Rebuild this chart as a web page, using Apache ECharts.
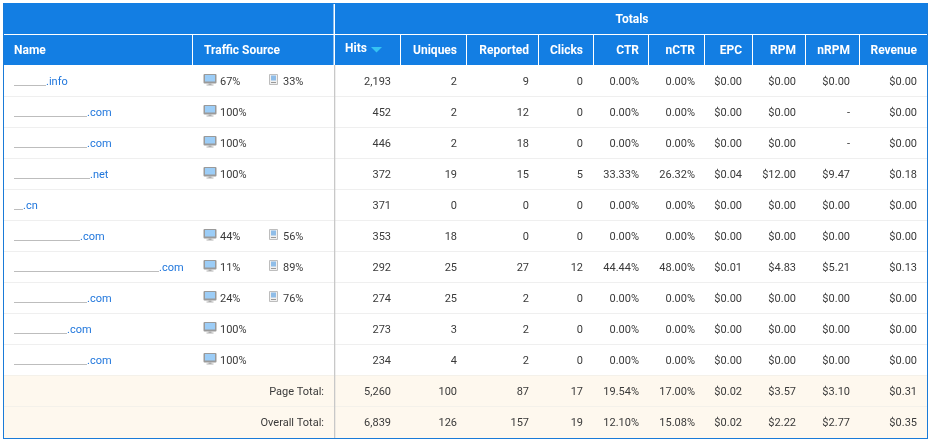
<!DOCTYPE html>
<html>

<head>
    <meta charset="utf-8">
    <title>Traffic report</title>
    <script src="https://cdn.jsdelivr.net/npm/echarts@6/dist/echarts.min.js"></script>
    <style>
        html, body { margin: 0; padding: 0; background: #fff; }
        #chart { width: 931px; height: 442px; }
    </style>
</head>

<body>
    <div id="chart"></div>
    <script>
        // table values
        const headers = ['Name', 'Traffic Source', 'Hits', 'Uniques', 'Reported', 'Clicks', 'CTR', 'nCTR', 'EPC', 'RPM', 'nRPM', 'Revenue'];
        const groupTitle = 'Totals';
        const names = ['.info', '.com', '.com', '.net', '.cn', '.com', '.com', '.com', '.com', '.com'];
        const desktop = [67, 100, 100, 100, null, 44, 11, 24, 100, 100];
        const mobile = [33, null, null, null, null, 56, 89, 76, null, null];
        const hits = ['2,193', '452', '446', '372', '371', '353', '292', '274', '273', '234'];
        const uniques = ['2', '2', '2', '19', '0', '18', '25', '25', '3', '4'];
        const reported = ['9', '12', '18', '15', '0', '0', '27', '2', '2', '2'];
        const clicks = ['0', '0', '0', '5', '0', '0', '12', '0', '0', '0'];
        const ctr = ['0.00%', '0.00%', '0.00%', '33.33%', '0.00%', '0.00%', '44.44%', '0.00%', '0.00%', '0.00%'];
        const nctr = ['0.00%', '0.00%', '0.00%', '26.32%', '0.00%', '0.00%', '48.00%', '0.00%', '0.00%', '0.00%'];
        const epc = ['$0.00', '$0.00', '$0.00', '$0.04', '$0.00', '$0.00', '$0.01', '$0.00', '$0.00', '$0.00'];
        const rpm = ['$0.00', '$0.00', '$0.00', '$12.00', '$0.00', '$0.00', '$4.83', '$0.00', '$0.00', '$0.00'];
        const nrpm = ['$0.00', '-', '-', '$9.47', '$0.00', '$0.00', '$5.21', '$0.00', '$0.00', '$0.00'];
        const revenue = ['$0.00', '$0.00', '$0.00', '$0.18', '$0.00', '$0.00', '$0.13', '$0.00', '$0.00', '$0.00'];
        const totalLabels = ['Page Total:', 'Overall Total:'];
        const pageTotal = ['5,260', '100', '87', '17', '19.54%', '17.00%', '$0.02', '$3.57', '$3.10', '$0.31'];
        const overallTotal = ['6,839', '126', '157', '19', '12.10%', '15.08%', '$0.02', '$2.22', '$2.77', '$0.35'];

        // layout
        const numberCols = [hits, uniques, reported, clicks, ctr, nctr, epc, rpm, nrpm, revenue];
        const textRight = [391, 457, 529, 583, 639, 695, 742, 796, 850, 917];
        const headSeps = [192, 400, 466, 538, 593, 648, 704, 752, 805, 859];
        const redactEnd = [46, 87, 87, 90, 23, 80, 159, 87, 67, 87];
        const LEFT = 3, RIGHT = 928, BOTTOM = 438, SPLIT = 334;
        const ROW0 = 66, ROW_H = 31;
        const FONT = 'Roboto';
        const BLUE = '#137ee3';
        const EDGE = '#1a7bd8';
        const INK = '#3a3a3a';
        const rowMid = i => ROW0 + ROW_H * i + 15;

        const chart = echarts.init(document.getElementById('chart'));

        // one entry per thing to draw, custom series turns them into shapes
        const boxes = [];
        const box = (x, y, w, h, fill) => boxes.push([x, y, w, h, fill]);
        box(LEFT, 3, RIGHT - LEFT, 62, BLUE);
        box(LEFT, 376, RIGHT - LEFT, 62, '#fef8ee');
        for (let i = 1; i <= 11; i++) {
            box(LEFT + 1, ROW0 + ROW_H * i - 1, RIGHT - LEFT - 2, 1, i >= 10 ? '#f4f1ea' : '#efefef');
        }
        box(SPLIT, 65, 1.3, BOTTOM - 65, '#c8c8c8');
        box(LEFT, 34, RIGHT - LEFT, 1, '#ffffff');
        box(SPLIT - 0.5, 4, 1.5, 61, '#ffffff');
        headSeps.forEach(x => box(x, 35, 1, 30, '#ffffff'));
        box(LEFT, 3, 1, BOTTOM - 3, EDGE);
        box(RIGHT - 1, 3, 1, BOTTOM - 3, EDGE);
        box(LEFT, BOTTOM, RIGHT - LEFT, 1, EDGE);
        redactEnd.forEach((x, i) => box(14, rowMid(i) + 4, x - 14, 1, '#bdbdbd'));

        const labels = [];
        const label = (x, y, text, color, weight, size, align) => labels.push([x, y, text, color, weight, size, align]);
        label(632, 20, groupTitle, '#fff', 700, 12, 'center');
        label(14, 51, headers[0], '#fff', 700, 12, 'left');
        label(204, 51, headers[1], '#fff', 700, 12, 'left');
        headers.slice(2).forEach((h, c) => {
            label(c === 0 ? 345 : textRight[c], c === 0 ? 49 : 51, h, '#fff', 700, 12, c === 0 ? 'left' : 'right');
        });
        names.forEach((n, i) => {
            label(redactEnd[i], rowMid(i) + 1, n, '#1f76dc', 400, 11, 'left');
            if (desktop[i] !== null) label(220, rowMid(i) + 1, desktop[i] + '%', INK, 400, 11, 'left');
            if (mobile[i] !== null) label(283, rowMid(i) + 1, mobile[i] + '%', INK, 400, 11, 'left');
            numberCols.forEach((col, c) => label(textRight[c], rowMid(i) + 1, col[i], INK, 400, 11, 'right'));
        });
        [pageTotal, overallTotal].forEach((row, k) => {
            label(324, rowMid(10 + k) + 1, totalLabels[k], INK, 400, 11, 'right');
            row.forEach((v, c) => label(textRight[c], rowMid(10 + k) + 1, v, INK, 400, 11, 'right'));
        });

        const rectAt = (api, x, y, w, h, r) => {
            const p = api.coord([x, y]);
            return { x: p[0], y: p[1], width: w, height: h, r: r || 0 };
        };

        // small monitor and phone glyphs in the traffic source column
        function monitorIcon(api, y) {
            return [
                { type: 'rect', shape: rectAt(api, 203.5, y - 7, 13, 9.5, 1), style: { fill: '#9a9a9a' } },
                { type: 'rect', shape: rectAt(api, 205, y - 6, 10, 6.5), style: { fill: '#9ccdf7' } },
                { type: 'rect', shape: rectAt(api, 208.5, y + 2.5, 3, 1.5), style: { fill: '#a8a8a8' } },
                { type: 'rect', shape: rectAt(api, 206.5, y + 3.5, 7, 1), style: { fill: '#b0b0b0' } }
            ];
        }
        function phoneIcon(api, y) {
            return [
                { type: 'rect', shape: rectAt(api, 269, y - 7, 9, 11, 1), style: { fill: '#bdbdbd' } },
                { type: 'rect', shape: rectAt(api, 270, y - 6, 7, 9), style: { fill: '#f0f0f0' } },
                { type: 'rect', shape: rectAt(api, 271, y - 5.5, 5, 5), style: { fill: '#8fbde8' } },
                { type: 'rect', shape: rectAt(api, 271, y + 1, 5, 1), style: { fill: '#999999' } }
            ];
        }

        const iconRows = names.map((n, i) => [i, desktop[i] !== null ? 1 : 0, mobile[i] !== null ? 1 : 0]);

        chart.setOption({
            animation: false,
            grid: { left: 0, right: 0, top: 0, bottom: 0 },
            xAxis: { type: 'value', min: 0, max: 931, show: false },
            yAxis: { type: 'value', min: 0, max: 442, inverse: true, show: false },
            series: [
                {
                    type: 'custom',
                    silent: true,
                    clip: false,
                    data: boxes,
                    encode: { x: 0, y: 1 },
                    renderItem: (params, api) => {
                        const d = boxes[params.dataIndex];
                        return { type: 'rect', shape: rectAt(api, d[0], d[1], d[2], d[3]), style: { fill: d[4] } };
                    }
                },
                {
                    type: 'custom',
                    silent: true,
                    clip: false,
                    data: iconRows,
                    encode: { y: 0 },
                    renderItem: (params, api) => {
                        const d = iconRows[params.dataIndex];
                        const y = rowMid(d[0]);
                        let kids = [];
                        if (d[1]) kids = kids.concat(monitorIcon(api, y));
                        if (d[2]) kids = kids.concat(phoneIcon(api, y));
                        return { type: 'group', children: kids };
                    }
                },
                {
                    // sort marker next to Hits
                    type: 'custom',
                    silent: true,
                    clip: false,
                    data: [[371, 47]],
                    encode: { x: 0, y: 1 },
                    renderItem: (params, api) => {
                        const p = api.coord([api.value(0), api.value(1)]);
                        return {
                            type: 'polygon',
                            shape: { points: [[p[0], p[1]], [p[0] + 11, p[1]], [p[0] + 5.5, p[1] + 5.5]] },
                            style: { fill: '#35c3f3' }
                        };
                    }
                },
                {
                    type: 'custom',
                    silent: true,
                    clip: false,
                    data: labels.map(l => [l[0], l[1]]),
                    encode: { x: 0, y: 1 },
                    renderItem: (params, api) => {
                        const l = labels[params.dataIndex];
                        const p = api.coord([l[0], l[1]]);
                        return {
                            type: 'text',
                            x: p[0],
                            y: p[1],
                            style: {
                                text: l[2],
                                fill: l[3],
                                fontFamily: FONT,
                                fontWeight: l[4],
                                fontSize: l[5],
                                align: l[6],
                                verticalAlign: 'middle'
                            }
                        };
                    }
                }
            ]
        });

        window.addEventListener('resize', function () {
            chart.resize();
        });
    </script>
</body>

</html>
